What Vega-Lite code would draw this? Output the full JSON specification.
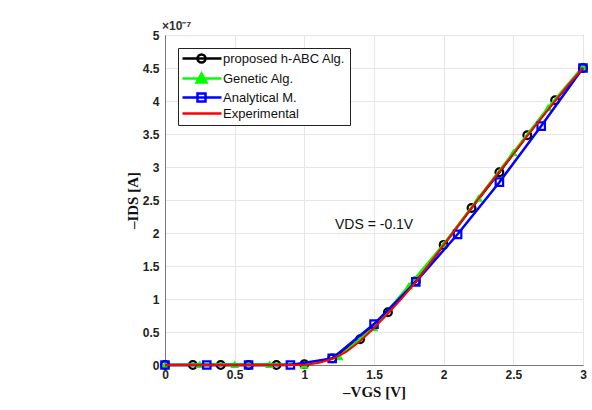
{
  "$schema": "https://vega.github.io/schema/vega-lite/v6.json",
  "autosize": "none",
  "width": 418,
  "height": 330,
  "padding": {"left": 165, "top": 35, "right": 9, "bottom": 45},
  "background": "white",
  "config": {
    "view": {"stroke": "#777", "strokeWidth": 1},
    "axis": {
      "grid": true,
      "gridColor": "#e6e6e6",
      "gridWidth": 1,
      "domainColor": "#777",
      "ticks": false,
      "labelFlush": false,
      "labelOverlap": false,
      "format": "~g",
      "labelFont": "Liberation Sans",
      "labelFontWeight": "bold",
      "labelFontSize": 12,
      "labelColor": "#222",
      "titleFont": "Liberation Serif",
      "titleFontWeight": "bold",
      "titleFontSize": 15,
      "titleColor": "#111"
    }
  },
  "datasets": {
    "notes": [
      {"note": "VDS = -0.1V", "kind": "annotation"},
      {"note": "×10⁻⁷", "kind": "exponent"}
    ]
  },
  "data": {
    "values": [
      {"series": "proposed h-ABC Alg.", "vgs": 0, "ids": 0},
      {"series": "proposed h-ABC Alg.", "vgs": 0.2, "ids": 0},
      {"series": "proposed h-ABC Alg.", "vgs": 0.4, "ids": 0},
      {"series": "proposed h-ABC Alg.", "vgs": 0.6, "ids": 0},
      {"series": "proposed h-ABC Alg.", "vgs": 0.8, "ids": 0},
      {"series": "proposed h-ABC Alg.", "vgs": 1.0, "ids": 0.01},
      {"series": "proposed h-ABC Alg.", "vgs": 1.2, "ids": 0.1},
      {"series": "proposed h-ABC Alg.", "vgs": 1.4, "ids": 0.39},
      {"series": "proposed h-ABC Alg.", "vgs": 1.6, "ids": 0.8},
      {"series": "proposed h-ABC Alg.", "vgs": 1.8, "ids": 1.27},
      {"series": "proposed h-ABC Alg.", "vgs": 2.0, "ids": 1.82},
      {"series": "proposed h-ABC Alg.", "vgs": 2.2, "ids": 2.38},
      {"series": "proposed h-ABC Alg.", "vgs": 2.4, "ids": 2.92},
      {"series": "proposed h-ABC Alg.", "vgs": 2.6, "ids": 3.48},
      {"series": "proposed h-ABC Alg.", "vgs": 2.8, "ids": 4.01},
      {"series": "proposed h-ABC Alg.", "vgs": 3.0, "ids": 4.5},
      {"series": "Genetic Alg.", "vgs": 0, "ids": 0},
      {"series": "Genetic Alg.", "vgs": 0.25, "ids": 0.01},
      {"series": "Genetic Alg.", "vgs": 0.5, "ids": 0.01},
      {"series": "Genetic Alg.", "vgs": 0.75, "ids": 0.01},
      {"series": "Genetic Alg.", "vgs": 1.0, "ids": 0},
      {"series": "Genetic Alg.", "vgs": 1.25, "ids": 0.13},
      {"series": "Genetic Alg.", "vgs": 1.5, "ids": 0.57},
      {"series": "Genetic Alg.", "vgs": 1.75, "ids": 1.2},
      {"series": "Genetic Alg.", "vgs": 2.0, "ids": 1.83},
      {"series": "Genetic Alg.", "vgs": 2.25, "ids": 2.53},
      {"series": "Genetic Alg.", "vgs": 2.5, "ids": 3.22},
      {"series": "Genetic Alg.", "vgs": 2.75, "ids": 3.9},
      {"series": "Genetic Alg.", "vgs": 3.0, "ids": 4.52},
      {"series": "Analytical M.", "vgs": 0, "ids": 0},
      {"series": "Analytical M.", "vgs": 0.3, "ids": 0},
      {"series": "Analytical M.", "vgs": 0.6, "ids": 0},
      {"series": "Analytical M.", "vgs": 0.9, "ids": 0},
      {"series": "Analytical M.", "vgs": 1.2, "ids": 0.1},
      {"series": "Analytical M.", "vgs": 1.5, "ids": 0.62},
      {"series": "Analytical M.", "vgs": 1.8, "ids": 1.26},
      {"series": "Analytical M.", "vgs": 2.1, "ids": 1.98},
      {"series": "Analytical M.", "vgs": 2.4, "ids": 2.77},
      {"series": "Analytical M.", "vgs": 2.7, "ids": 3.62},
      {"series": "Analytical M.", "vgs": 3.0, "ids": 4.5},
      {"series": "Experimental", "vgs": 0, "ids": 0},
      {"series": "Experimental", "vgs": 0.5, "ids": 0},
      {"series": "Experimental", "vgs": 1.0, "ids": 0},
      {"series": "Experimental", "vgs": 1.1, "ids": 0.03},
      {"series": "Experimental", "vgs": 1.2, "ids": 0.09},
      {"series": "Experimental", "vgs": 1.3, "ids": 0.2},
      {"series": "Experimental", "vgs": 1.4, "ids": 0.36},
      {"series": "Experimental", "vgs": 1.5, "ids": 0.56},
      {"series": "Experimental", "vgs": 1.6, "ids": 0.78},
      {"series": "Experimental", "vgs": 1.7, "ids": 1.01},
      {"series": "Experimental", "vgs": 1.8, "ids": 1.26},
      {"series": "Experimental", "vgs": 1.9, "ids": 1.54},
      {"series": "Experimental", "vgs": 2.0, "ids": 1.82},
      {"series": "Experimental", "vgs": 2.1, "ids": 2.1},
      {"series": "Experimental", "vgs": 2.2, "ids": 2.38},
      {"series": "Experimental", "vgs": 2.3, "ids": 2.66},
      {"series": "Experimental", "vgs": 2.4, "ids": 2.93},
      {"series": "Experimental", "vgs": 2.5, "ids": 3.2},
      {"series": "Experimental", "vgs": 2.6, "ids": 3.47},
      {"series": "Experimental", "vgs": 2.7, "ids": 3.74},
      {"series": "Experimental", "vgs": 2.8, "ids": 4.0},
      {"series": "Experimental", "vgs": 2.9, "ids": 4.26},
      {"series": "Experimental", "vgs": 3.0, "ids": 4.5}
    ]
  },
  "layer": [
    {
      "encoding": {
        "x": {
          "field": "vgs", "type": "quantitative",
          "scale": {"domain": [0, 3], "nice": false, "zero": false},
          "axis": {"values": [0, 0.5, 1, 1.5, 2, 2.5, 3], "title": "–VGS [V]", "labelPadding": 4, "titlePadding": 4}
        },
        "y": {
          "field": "ids", "type": "quantitative",
          "scale": {"domain": [0, 5], "nice": false},
          "axis": {"values": [0, 0.5, 1, 1.5, 2, 2.5, 3, 3.5, 4, 4.5, 5], "title": "–IDS [A]", "labelPadding": 6, "titlePadding": 2}
        }
      },
      "layer": [
        {
          "transform": [{"filter": "datum.series === 'proposed h-ABC Alg.'"}],
          "mark": {"type": "line", "color": "black", "strokeWidth": 2.5,
            "point": {"shape": "circle", "filled": false, "size": 60, "stroke": "black", "strokeWidth": 2.2, "opacity": 1}}
        },
        {
          "transform": [{"filter": "datum.series === 'Genetic Alg.'"}],
          "mark": {"type": "line", "color": "#00ff00", "strokeWidth": 2.5,
            "point": {"shape": "triangle-up", "filled": true, "size": 75, "color": "#00ff00", "opacity": 1}}
        },
        {
          "transform": [{"filter": "datum.series === 'Analytical M.'"}],
          "mark": {"type": "line", "color": "#0000ff", "strokeWidth": 2.5,
            "point": {"shape": "square", "filled": false, "size": 55, "stroke": "#0000ff", "strokeWidth": 2.2, "opacity": 1}}
        },
        {
          "transform": [{"filter": "datum.series === 'Experimental'"}],
          "mark": {"type": "line", "color": "#ff0000", "strokeWidth": 2}
        },
        {
          "transform": [{"filter": "false"}],
          "mark": {"type": "point", "filled": false, "opacity": 1},
          "encoding": {
            "shape": {
              "field": "series", "type": "nominal",
              "scale": {
                "domain": ["proposed h-ABC Alg.", "Genetic Alg.", "Analytical M.", "Experimental"],
                "range": [
                  "M-1.2,0H6.6M3.4,0A0.8,0.8,0,1,1,1.8,0A0.8,0.8,0,1,1,3.4,0Z",
                  "M-1.2,0H6.6M1.6,0.8L3.6,0.8L2.6,-1Z",
                  "M-1.2,0H6.6M1.8,-0.8H3.4V0.8H1.8Z",
                  "M-1.2,0H6.6"
                ]
              },
              "legend": {
                "title": null,
                "orient": "top-left",
                "offset": 13,
                "padding": 4,
                "strokeColor": "#222",
                "fillColor": "white",
                "symbolSize": 100,
                "symbolStrokeWidth": 2.5,
                "symbolOpacity": 1,
                "labelFont": "Liberation Sans",
                "labelFontSize": 13,
                "labelColor": "#111",
                "labelOffset": 28,
                "rowPadding": 0
              }
            },
            "stroke": {
              "field": "series", "type": "nominal",
              "scale": {
                "domain": ["proposed h-ABC Alg.", "Genetic Alg.", "Analytical M.", "Experimental"],
                "range": ["black", "#00ff00", "#0000ff", "#ff0000"]
              }
            },
            "fill": {
              "field": "series", "type": "nominal",
              "scale": {
                "domain": ["proposed h-ABC Alg.", "Genetic Alg.", "Analytical M.", "Experimental"],
                "range": ["transparent", "#00ff00", "transparent", "transparent"]
              }
            }
          }
        }
      ]
    },
    {
      "data": {"name": "notes"},
      "transform": [{"filter": "datum.kind === 'annotation'"}],
      "mark": {"type": "text", "align": "left", "baseline": "middle", "font": "Liberation Sans", "fontSize": 14, "color": "#111"},
      "encoding": {
        "text": {"field": "note"},
        "x": {"datum": 1.22, "type": "quantitative", "axis": {"values": [0, 0.5, 1, 1.5, 2, 2.5, 3], "title": "–VGS [V]", "labelPadding": 4, "titlePadding": 4}},
        "y": {"datum": 2.12, "type": "quantitative", "axis": {"values": [0, 0.5, 1, 1.5, 2, 2.5, 3, 3.5, 4, 4.5, 5], "title": "–IDS [A]", "labelPadding": 6, "titlePadding": 2}}
      }
    },
    {
      "data": {"name": "notes"},
      "transform": [{"filter": "datum.kind === 'exponent'"}],
      "mark": {"type": "text", "align": "left", "baseline": "bottom", "dy": -2, "dx": -3, "font": "Liberation Sans", "fontSize": 12, "fontWeight": "bold", "color": "#333"},
      "encoding": {
        "text": {"field": "note"},
        "x": {"datum": 0, "type": "quantitative", "axis": {"values": [0, 0.5, 1, 1.5, 2, 2.5, 3], "title": "–VGS [V]", "labelPadding": 4, "titlePadding": 4}},
        "y": {"datum": 5, "type": "quantitative", "axis": {"values": [0, 0.5, 1, 1.5, 2, 2.5, 3, 3.5, 4, 4.5, 5], "title": "–IDS [A]", "labelPadding": 6, "titlePadding": 2}}
      }
    }
  ]
}
